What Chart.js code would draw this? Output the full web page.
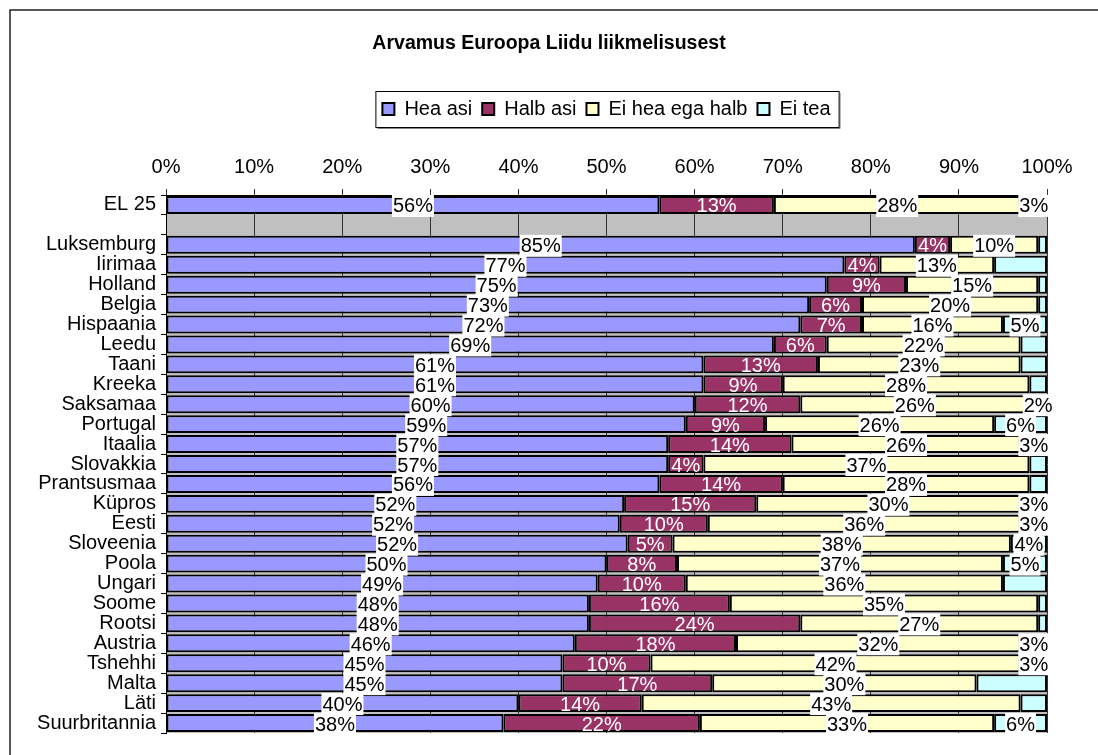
<!DOCTYPE html>
<html>
<head>
<meta charset="utf-8">
<script src="https://cdn.jsdelivr.net/npm/chart.js@4.4.1/dist/chart.umd.min.js"></script>
<style>
  body { margin: 0; background: #fff; }
  #wrap { width: 1098px; height: 755px; }
</style>
</head>
<body>
<div id="wrap"><canvas id="chart" width="1098" height="755"></canvas></div>
<script>
const categories = [
  "EL 25", "", "Luksemburg", "Iirimaa", "Holland", "Belgia", "Hispaania", "Leedu",
  "Taani", "Kreeka", "Saksamaa", "Portugal", "Itaalia", "Slovakkia", "Prantsusmaa",
  "Küpros", "Eesti", "Sloveenia", "Poola", "Ungari", "Soome", "Rootsi", "Austria",
  "Tshehhi", "Malta", "Läti", "Suurbritannia",
];
// shares in %, labels show them rounded
const heaAsi = [56, null, 85, 77, 75, 73, 72, 69, 61, 61, 60, 59, 57, 57, 56, 52, 51.5, 52.4, 50, 49, 48, 48, 46.4, 45, 45, 40, 38.3];
const halbAsi = [13, null, 4, 4, 9, 6, 7, 6, 13, 9, 12, 9, 14, 4, 14, 15, 10, 5.1, 8, 10, 16, 24, 18.3, 10, 17, 14, 22.3];
const eiHeaEgaHalb = [28, null, 10, 13, 15, 20, 16, 22, 23, 28, 26, 26, 26, 37, 28, 30, 35.5, 38.4, 37, 36, 35, 27, 32.3, 42, 30, 43, 33.4];
const eiTea = [3, null, 1, 6, 1, 1, 5, 3, 3, 2, 2, 6, 3, 2, 2, 3, 3, 4.1, 5, 5, 1, 1, 3, 3, 8, 3, 6];
// the original only labels some of the "Ei tea" pieces
const showEiTeaLabel = [true, false, false, false, false, false, true, false, false, false, true, true, true, false, false, true, true, true, true, false, false, false, true, true, false, false, true];
const xTicks = [0, 10, 20, 30, 40, 50, 60, 70, 80, 90, 100];

Chart.defaults.font.family = "Arial, 'Liberation Sans', sans-serif";
Chart.defaults.color = "#000";

// gray plot area like the old excel chart
const plotBackground = {
  id: "plotBackground",
  beforeDraw(chart) {
    const { ctx, chartArea: a } = chart;
    ctx.save();
    ctx.fillStyle = "#c0c0c0";
    ctx.fillRect(a.left, a.top, a.right - a.left, a.bottom - a.top);
    ctx.restore();
  },
};

// values written in the middle of each piece
const segmentLabels = {
  id: "segmentLabels",
  afterDatasetsDraw(chart) {
    const ctx = chart.ctx;
    ctx.save();
    ctx.font = "20px Arial, 'Liberation Sans', sans-serif";
    ctx.textAlign = "center";
    ctx.textBaseline = "middle";
    chart.data.datasets.forEach((ds, i) => {
      const meta = chart.getDatasetMeta(i);
      meta.data.forEach((bar, j) => {
        const v = ds.data[j];
        if (v == null) return;
        if (i === 3 && !showEiTeaLabel[j]) return;
        const text = Math.round(v) + "%";
        const cx = (bar.x + bar.base) / 2;
        const cy = bar.y + 1;
        if (i === 1) {
          ctx.fillStyle = "#fff";
        } else {
          const w = ctx.measureText(text).width;
          ctx.fillStyle = "#fff";
          ctx.fillRect(cx - w / 2 - 1, cy - 11, w + 2, 22);
          ctx.fillStyle = "#000";
        }
        ctx.fillText(text, cx, cy + 1);
      });
    });
    ctx.restore();
  },
};

const frames = {
  id: "frames",
  afterDraw(chart) {
    const ctx = chart.ctx;
    const boxes = chart.legend.legendHitBoxes;
    ctx.save();
    if (boxes && boxes.length) {
      const left = boxes[0].left - 7;
      const right = boxes[boxes.length - 1].left + boxes[boxes.length - 1].width + 8;
      const top = boxes[0].top - 8;
      const bottom = boxes[0].top + boxes[0].height + 8;
      ctx.strokeStyle = "#888";
      ctx.lineWidth = 1;
      ctx.beginPath();
      ctx.moveTo(right + 1.5, top + 2);
      ctx.lineTo(right + 1.5, bottom + 1.5);
      ctx.lineTo(left + 2, bottom + 1.5);
      ctx.stroke();
      ctx.strokeStyle = "#000";
      ctx.strokeRect(left + 0.5, top + 0.5, right - left, bottom - top);
    }
    ctx.strokeStyle = "#222";
    ctx.lineWidth = 1.5;
    ctx.strokeRect(10, 10, 1200, 1000);
    ctx.restore();
  },
};

function makeSet(label, data, color) {
  return {
    label: label,
    data: data,
    backgroundColor: color,
    borderColor: "#000",
    borderWidth: 2,
    borderSkipped: false,
    barPercentage: 0.9,
    categoryPercentage: 1,
  };
}

const chart = new Chart(document.getElementById("chart"), {
  type: "bar",
  data: {
    labels: categories,
    datasets: [
      makeSet("Hea asi", heaAsi, "#9999ff"),
      makeSet("Halb asi", halbAsi, "#993366"),
      makeSet("Ei hea ega halb", eiHeaEgaHalb, "#ffffcc"),
      makeSet("Ei tea", eiTea, "#ccffff"),
    ],
  },
  options: {
    indexAxis: "y",
    responsive: false,
    animation: false,
    layout: { padding: { top: 10, left: 0, right: 0, bottom: 22 } },
    plugins: {
      title: {
        display: true,
        text: "Arvamus Euroopa Liidu liikmelisusest",
        font: { size: 19.5, weight: "bold" },
        color: "#000",
        padding: { top: 22.3, bottom: 33.3 },
      },
      legend: {
        position: "top",
        fullSize: false,
        labels: {
          boxWidth: 12,
          boxHeight: 12,
          padding: 10,
          font: { size: 20 },
          color: "#000",
        },
      },
      tooltip: { enabled: false },
    },
    scales: {
      x: {
        position: "top",
        stacked: true,
        min: 0,
        max: 100,
        afterBuildTicks(scale) {
          scale.ticks = xTicks.map((v) => ({ value: v }));
        },
        afterFit(scale) {
          scale.height = 66;
        },
        ticks: {
          callback: (v) => v + "%",
          font: { size: 20 },
          color: "#000",
          padding: 10,
          maxRotation: 0,
        },
        grid: { color: "#333", lineWidth: 1, tickLength: 6 },
        border: { display: true, color: "#000", width: 1 },
      },
      y: {
        stacked: true,
        afterFit(scale) {
          scale.width = 166;
        },
        ticks: {
          font: { size: 20 },
          color: "#000",
          padding: 5,
          autoSkip: false,
        },
        grid: {
          offset: true,
          drawOnChartArea: false,
          color: "#000",
          tickLength: 5,
        },
        border: { display: true, color: "#000", width: 1 },
      },
      // empty strip on the right so the plot ends where the original does
      rightSpace: {
        type: "linear",
        position: "right",
        display: true,
        ticks: { display: false },
        grid: { display: false },
        border: { display: false },
        afterFit(scale) {
          scale.width = 51;
        },
      },
    },
  },
  plugins: [plotBackground, segmentLabels, frames],
});
</script>
</body>
</html>
